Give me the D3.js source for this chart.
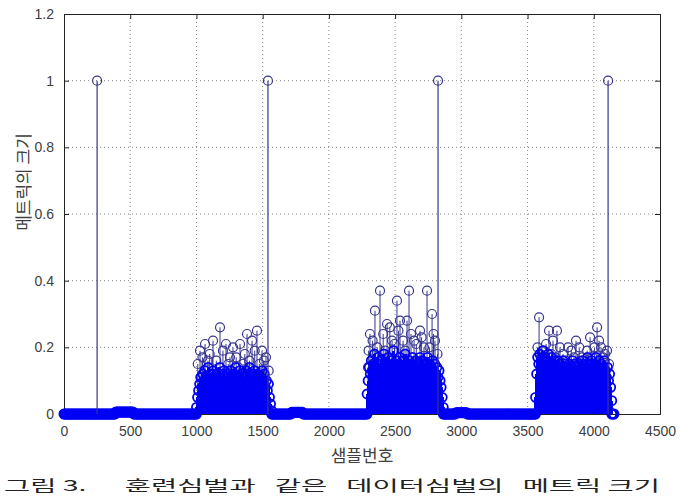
<!DOCTYPE html>
<html>
<head>
<meta charset="utf-8">
<script src="https://cdn.jsdelivr.net/npm/d3@7"></script>
<style>
  body { margin: 0; background: #fff; }
  svg { display: block; }
</style>
</head>
<body>
<div id="chart"></div>
<script>
var svgWidth = 684;
var svgHeight = 497;

var margin = { top: 14, right: 24, bottom: 83, left: 64 };
var plotWidth = svgWidth - margin.left - margin.right;
var plotHeight = svgHeight - margin.top - margin.bottom;

// axis ticks
var xTicks = [0, 500, 1000, 1500, 2000, 2500, 3000, 3500, 4000, 4500];
var yTicks = [0, 0.2, 0.4, 0.6, 0.8, 1, 1.2];
var yTickLabels = ["0", "0.2", "0.4", "0.6", "0.8", "1", "1.2"];

// the four training-symbol spikes
var spikeSamples = [250, 1540, 2824, 4108];
var spikeValues = [1, 1, 1, 1];

// isolated taller stems sticking out of the three data blocks
var peakSamples = [1027, 1065, 1087, 1125, 1178, 1223, 1253, 1276, 1329, 1352, 1382, 1420, 1457, 1495, 1525,
  2295, 2310, 2348, 2386, 2439, 2477, 2514, 2537, 2590, 2605, 2643, 2688, 2718, 2741, 2779, 2801,
  3587, 3624, 3662, 3692, 3722, 3768, 3806, 3866, 3911, 3972, 4025, 4055, 4085, 4115];
var peakValues = [0.19, 0.21, 0.16, 0.22, 0.26, 0.21, 0.17, 0.20, 0.21, 0.15, 0.24, 0.22, 0.25, 0.19, 0.17,
  0.14, 0.24, 0.31, 0.37, 0.27, 0.22, 0.34, 0.28, 0.28, 0.37, 0.22, 0.25, 0.20, 0.37, 0.30, 0.22,
  0.29, 0.19, 0.25, 0.22, 0.25, 0.18, 0.20, 0.22, 0.17, 0.23, 0.26, 0.20, 0.18, 0.15];

// mid-height stems crowding just above the solid part of each block
var shoulderSamples = [1010, 1045, 1100, 1150, 1200, 1240, 1300, 1315, 1365, 1400, 1440, 1475, 1510, 1545,
  2300, 2330, 2365, 2410, 2425, 2460, 2495, 2525, 2560, 2575, 2620, 2660, 2700, 2760, 2790, 2820,
  3575, 3600, 3640, 3680, 3710, 3745, 3785, 3830, 3850, 3890, 3930, 3950, 3990, 4005, 4040, 4070, 4100];
var shoulderValues = [0.15, 0.17, 0.18, 0.16, 0.19, 0.15, 0.17, 0.14, 0.18, 0.16, 0.19, 0.15, 0.16, 0.13,
  0.19, 0.22, 0.20, 0.24, 0.19, 0.26, 0.21, 0.25, 0.22, 0.19, 0.24, 0.21, 0.23, 0.20, 0.24, 0.18,
  0.20, 0.17, 0.21, 0.18, 0.17, 0.20, 0.16, 0.19, 0.17, 0.20, 0.16, 0.19, 0.17, 0.20, 0.22, 0.17, 0.19];

// dense blocks, one value every 8 samples
var blockStep = 8;
var block1Start = 1000;
var block1Values = [0.02, 0.05, 0.07, 0.09, 0.11, 0.08, 0.12, 0.10, 0.13, 0.09, 0.11, 0.14, 0.10, 0.08, 0.12, 0.11, 0.13, 0.09, 0.10, 0.12,
  0.08, 0.11, 0.14, 0.10, 0.09, 0.12, 0.13, 0.10, 0.08, 0.11, 0.12, 0.09, 0.13, 0.10, 0.11, 0.08, 0.12, 0.14, 0.10, 0.09,
  0.11, 0.13, 0.10, 0.12, 0.08, 0.11, 0.09, 0.13, 0.12, 0.10, 0.14, 0.11, 0.09, 0.12, 0.10, 0.13, 0.11, 0.08, 0.12, 0.10,
  0.11, 0.09, 0.13, 0.10, 0.12, 0.08, 0.10, 0.07, 0.09, 0.05, 0.03, 0.01];
var block2Start = 2288;
var block2Values = [0.06, 0.10, 0.14, 0.12, 0.16, 0.13, 0.15, 0.18, 0.12, 0.14, 0.17, 0.13, 0.15, 0.12, 0.16, 0.14, 0.18, 0.13, 0.15, 0.12,
  0.17, 0.14, 0.16, 0.13, 0.15, 0.19, 0.12, 0.14, 0.16, 0.13, 0.15, 0.17, 0.12, 0.14, 0.16, 0.13, 0.18, 0.15, 0.12, 0.14,
  0.16, 0.13, 0.15, 0.17, 0.12, 0.14, 0.16, 0.13, 0.15, 0.12, 0.17, 0.14, 0.16, 0.13, 0.15, 0.12, 0.14, 0.17, 0.13, 0.15,
  0.12, 0.14, 0.16, 0.13, 0.15, 0.12, 0.14, 0.11, 0.13, 0.10, 0.08, 0.05, 0.02];
var block3Start = 3560;
var block3Values = [0.05, 0.12, 0.17, 0.15, 0.18, 0.14, 0.16, 0.19, 0.15, 0.17, 0.13, 0.16, 0.18, 0.14, 0.15, 0.17, 0.13, 0.15, 0.16, 0.12,
  0.14, 0.16, 0.13, 0.15, 0.12, 0.14, 0.16, 0.13, 0.15, 0.12, 0.14, 0.13, 0.15, 0.12, 0.14, 0.16, 0.13, 0.15, 0.12, 0.14,
  0.13, 0.15, 0.12, 0.14, 0.16, 0.13, 0.15, 0.12, 0.14, 0.17, 0.13, 0.15, 0.12, 0.16, 0.14, 0.13, 0.15, 0.17, 0.12, 0.14,
  0.16, 0.13, 0.15, 0.12, 0.14, 0.16, 0.13, 0.11, 0.14, 0.10, 0.12, 0.08, 0.04];

// quiet stretches sitting on zero, and the faint bumps in them
var quietRanges = [[0, 1000], [1568, 2288], [2864, 3560], [4136, 4152]];
var bumpRanges = [[390, 520, 0.006], [1720, 1800, 0.005], [2960, 3040, 0.004]];

var svg = d3.select("#chart")
  .append("svg")
  .attr("width", svgWidth)
  .attr("height", svgHeight);

var plot = svg.append("g")
  .attr("transform", `translate(${margin.left}, ${margin.top})`);

var xScale = d3.scaleLinear().domain([0, 4500]).range([0, plotWidth]);
var yScale = d3.scaleLinear().domain([0, 1.2]).range([plotHeight, 0]);

// grid
plot.append("g")
  .selectAll("line")
  .data(xTicks.slice(1, -1))
  .enter()
  .append("line")
  .attr("x1", d => xScale(d)).attr("x2", d => xScale(d))
  .attr("y1", 0).attr("y2", plotHeight)
  .attr("stroke", "#8a8a8a").attr("stroke-width", 1)
  .attr("stroke-dasharray", "1,3");

plot.append("g")
  .selectAll("line")
  .data(yTicks.slice(1, -1))
  .enter()
  .append("line")
  .attr("y1", d => yScale(d)).attr("y2", d => yScale(d))
  .attr("x1", 0).attr("x2", plotWidth)
  .attr("stroke", "#8a8a8a").attr("stroke-width", 1)
  .attr("stroke-dasharray", "1,3");

// axes (ticks inward, mirrored on top and right)
var fontTick = "'Liberation Sans', Arial, sans-serif";
var bottomAxis = d3.axisBottom(xScale).tickValues(xTicks).tickSize(-5).tickPadding(12).tickFormat(d3.format("d"));
var leftAxis = d3.axisLeft(yScale).tickValues(yTicks).tickSize(-5).tickPadding(10).tickFormat((d, i) => yTickLabels[i]);
var topAxis = d3.axisTop(xScale).tickValues(xTicks).tickSize(-5).tickFormat("");
var rightAxis = d3.axisRight(yScale).tickValues(yTicks).tickSize(-5).tickFormat("");

[[bottomAxis, `translate(0, ${plotHeight})`], [leftAxis, null], [topAxis, null], [rightAxis, `translate(${plotWidth}, 0)`]]
  .forEach(function(a) {
    var g = plot.append("g").call(a[0]);
    if (a[1]) g.attr("transform", a[1]);
    g.select(".domain").attr("stroke", "#222");
    g.selectAll(".tick line").attr("stroke", "#222");
    g.selectAll("text").attr("fill", "#404040").style("font-family", fontTick).style("font-size", "14px");
  });

var stemBlue = "#0000f5";
var stemNavy = "#363690";
var markerR = 4.5;

// baseline samples (value 0 or tiny bumps)
var baseline = [];
quietRanges.forEach(function(r) {
  for (var s = r[0]; s <= r[1]; s += blockStep) {
    var v = 0;
    bumpRanges.forEach(function(b) { if (s >= b[0] && s <= b[1]) v = b[2]; });
    baseline.push({ s: s, v: v });
  }
});

var dense = [];
[[block1Start, block1Values], [block2Start, block2Values], [block3Start, block3Values]].forEach(function(b) {
  b[1].forEach(function(v, i) { dense.push({ s: b[0] + i * blockStep, v: v }); });
});

var shoulders = shoulderSamples.map((s, i) => ({ s: s, v: shoulderValues[i] }));
var peaks = peakSamples.map((s, i) => ({ s: s, v: peakValues[i] }));
var spikes = spikeSamples.map((s, i) => ({ s: s, v: spikeValues[i] }));

function drawStems(data, color, width, ringWidth, cls, crisp) {
  var g = plot.append("g").attr("class", cls);
  g.selectAll("line")
    .data(data)
    .enter()
    .append("line")
    .attr("x1", d => xScale(d.s)).attr("x2", d => xScale(d.s))
    .attr("y1", yScale(0)).attr("y2", d => yScale(d.v))
    .attr("stroke", color).attr("stroke-width", width)
    .attr("shape-rendering", crisp ? "crispEdges" : null);
  g.selectAll("circle")
    .data(data)
    .enter()
    .append("circle")
    .attr("cx", d => xScale(d.s))
    .attr("cy", d => yScale(d.v))
    .attr("r", markerR)
    .attr("fill", "none")
    .attr("stroke", color).attr("stroke-width", ringWidth);
}

drawStems(baseline, stemBlue, 2, 2, "baseline", false);
drawStems(shoulders, stemNavy, 1, 1.2, "shoulders", false);
drawStems(peaks, stemNavy, 1, 1.2, "peaks", false);
drawStems(dense, stemBlue, 3, 1.8, "dense", true);
drawStems(spikes, stemNavy, 1.2, 1.2, "spikes", false);

// axis labels
var fontKr = "'Noto Sans CJK KR', 'Noto Sans', sans-serif";
svg.append("text")
  .attr("transform", "translate(22, 182) rotate(-90)")
  .attr("text-anchor", "middle")
  .attr("dominant-baseline", "central")
  .attr("fill", "#404040")
  .style("font-family", fontKr)
  .style("font-size", "17px")
  .text("메트릭의 크기");

svg.append("text")
  .attr("x", margin.left + plotWidth / 2)
  .attr("y", 462)
  .attr("text-anchor", "middle")
  .attr("fill", "#404040")
  .style("font-family", fontKr)
  .style("font-size", "17px")
  .text("샘플번호");

// figure caption along the bottom edge
svg.append("text")
  .attr("x", 4)
  .attr("y", 491)
  .attr("textLength", 656)
  .attr("lengthAdjust", "spacingAndGlyphs")
  .attr("fill", "#222")
  .style("white-space", "pre")
  .style("font-family", fontKr)
  .style("font-size", "15px")
  .text("그림 3.      훈련심벌과   같은   데이터심벌의   메트릭 크기");
</script>
</body>
</html>
